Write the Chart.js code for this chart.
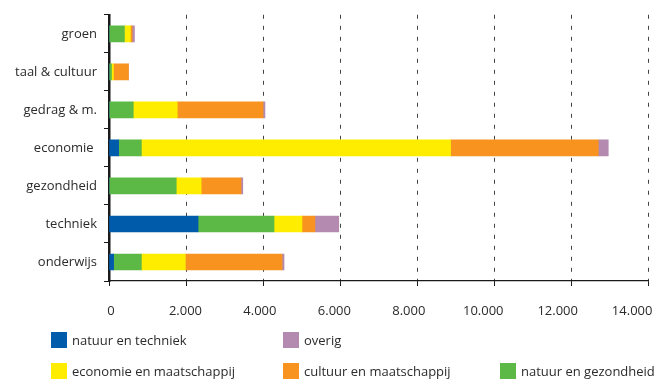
<!DOCTYPE html>
<html>
<head>
<meta charset="utf-8">
<script src="https://cdn.jsdelivr.net/npm/chart.js@4/dist/chart.umd.min.js"></script>
<style>
  body { margin: 0; background: #fff; }
  #wrap { position: relative; width: 667px; height: 379px; }
  #legend {
    position: absolute; left: 51px; top: 332px;
    display: grid; grid-template-columns: 232px 217px 167px; row-gap: 15px;
    font: 13px "Open Sans", sans-serif; color: #2b2b2b;
  }
  .item { display: flex; align-items: center; height: 16px; white-space: nowrap; }
  .box { width: 16px; height: 16px; margin-right: 5px; flex: none; }
</style>
</head>
<body>
<div id="wrap">
  <canvas id="chart"></canvas>
  <div id="legend"></div>
</div>
<script>
// categories, top to bottom
const categories = ["groen", "taal & cultuur", "gedrag & m.", "economie ", "gezondheid", "techniek", "onderwijs"];

// series values, in stacking order
const natuurTechniek = [0, 0, 0, 250, 0, 2310, 120];
const natuurGezondheid = [400, 65, 630, 590, 1745, 1970, 720];
const economieMaatschappij = [155, 50, 1140, 8020, 645, 725, 1140];
const cultuurMaatschappij = [45, 390, 2225, 3830, 1035, 335, 2510];
const overig = [60, 0, 50, 260, 45, 620, 50];

const xTicks = [0, 2000, 4000, 6000, 8000, 10000, 12000, 14000];

const legendOrder = ["natuur en techniek", "overig", null, "economie en maatschappij", "cultuur en maatschappij", "natuur en gezondheid"];

const textColor = "#2b2b2b";
const font = { family: "'Open Sans', sans-serif", size: 13 };

function formatNumber(v) {
  return String(v).replace(/\B(?=(\d{3})+(?!\d))/g, ".");
}

const ctx = document.getElementById("chart").getContext("2d");

const chart = new Chart(ctx, {
  type: "bar",
  data: {
    labels: categories,
    datasets: [
      { label: "natuur en techniek", data: natuurTechniek, backgroundColor: "#005BAA" },
      { label: "natuur en gezondheid", data: natuurGezondheid, backgroundColor: "#5DB946" },
      { label: "economie en maatschappij", data: economieMaatschappij, backgroundColor: "#FFED00" },
      { label: "cultuur en maatschappij", data: cultuurMaatschappij, backgroundColor: "#F7931E" },
      { label: "overig", data: overig, backgroundColor: "#B48AB0" }
    ]
  },
  options: {
    indexAxis: "y",
    responsive: true,
    maintainAspectRatio: false,
    animation: false,
    barThickness: 16,
    layout: { padding: { left: 0, right: 16, top: 12, bottom: 0 } },
    plugins: {
      legend: { display: false },
      tooltip: { enabled: false }
    },
    scales: {
      y: {
        stacked: true,
        afterFit: scale => { scale.width = 109; },
        grid: {
          drawOnChartArea: false,
          tickLength: 5,
          tickColor: "#1a1a1a",
          color: "#1a1a1a"
        },
        border: { color: "#1a1a1a", width: 2.5 },
        ticks: { color: textColor, font: font, padding: 7 }
      },
      x: {
        stacked: true,
        min: 0,
        max: 14000,
        weight: 0,
        afterFit: scale => { scale.height = 8; },
        ticks: { stepSize: 2000, display: false },
        grid: {
          color: "#444",
          lineWidth: 1,
          tickLength: 5,
          tickColor: "#1a1a1a",
          tickBorderDash: []
        },
        border: { color: "#1a1a1a", width: 1.2, dash: [4, 7] }
      },
      // label-only axis: labels in the reference sit on a slightly narrower spacing
      x2: {
        type: "linear",
        position: "bottom",
        weight: 1,
        min: -54,
        max: 14446,
        afterFit: scale => { scale.height = 90; },
        afterBuildTicks: scale => { scale.ticks = xTicks.map(v => ({ value: v })); },
        grid: { display: false, drawTicks: false },
        border: { display: false },
        ticks: {
          color: textColor,
          font: font,
          padding: 14,
          maxRotation: 0,
          autoSkip: false,
          callback: value => formatNumber(value)
        }
      }
    }
  }
});

// STEP: custom legend in the reference's two-row layout
const legendEl = document.getElementById("legend");
legendOrder.forEach(name => {
  const item = document.createElement("div");
  item.className = "item";
  if (name) {
    const ds = chart.data.datasets.find(d => d.label === name);
    const box = document.createElement("span");
    box.className = "box";
    box.style.background = ds.backgroundColor;
    const txt = document.createElement("span");
    txt.textContent = ds.label;
    item.appendChild(box);
    item.appendChild(txt);
  }
  legendEl.appendChild(item);
});
</script>
</body>
</html>
